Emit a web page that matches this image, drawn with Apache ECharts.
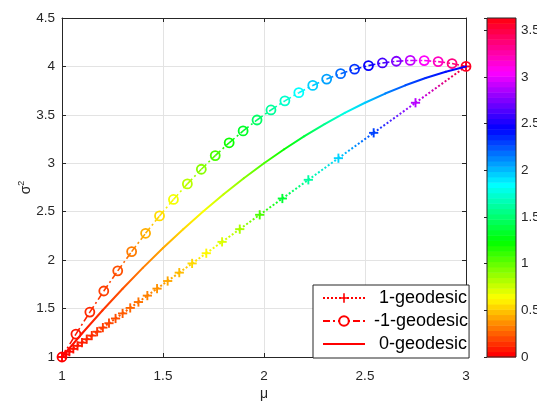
<!DOCTYPE html>
<html><head><meta charset="utf-8">
<script src="https://cdn.jsdelivr.net/npm/echarts@6/dist/echarts.min.js"></script>
<style>html,body{margin:0;padding:0;background:#fff}#c{width:537px;height:402px}</style>
</head><body><div id="c"></div>
<script>
// ---------------- data ----------------
const xTicks = [1, 1.5, 2, 2.5, 3];
const yTicks = [1, 1.5, 2, 2.5, 3, 3.5, 4, 4.5];
const cbTicks = [0, 0.5, 1, 1.5, 2, 2.5, 3, 3.5];
const CMAX = 3.63;            // colour scale maximum
const CB_LEVELS = 64;         // colormap levels

// 1-geodesic (dotted, + markers)
const mu1 = [1, 1.0177, 1.0364, 1.0561, 1.0769, 1.0990, 1.1224, 1.1474, 1.1739, 1.2023, 1.2326, 1.2651, 1.3000, 1.3377, 1.3784, 1.4225, 1.4706, 1.5231, 1.5806, 1.6441, 1.7143, 1.7925, 1.8800, 1.9787, 2.0909, 2.2195, 2.3684, 2.5429, 2.7500, 3.0];
const s1  = [1, 1.0266, 1.0545, 1.0841, 1.1154, 1.1485, 1.1837, 1.2211, 1.2609, 1.3034, 1.3488, 1.3976, 1.4500, 1.5065, 1.5676, 1.6338, 1.7059, 1.7846, 1.8710, 1.9661, 2.0714, 2.1887, 2.3200, 2.4681, 2.6364, 2.8293, 3.0526, 3.3143, 3.6250, 4.0];
const c1  = [0, 0.01, 0.02, 0.04, 0.05, 0.07, 0.09, 0.11, 0.13, 0.15, 0.17, 0.19, 0.22, 0.25, 0.28, 0.31, 0.35, 0.40, 0.45, 0.52, 0.60, 0.70, 0.82, 1.05, 1.35, 1.62, 1.95, 2.30, 2.90, 3.60];

// -1-geodesic (dash-dot, o markers)
const mu2 = [1, 1.0690, 1.1379, 1.2069, 1.2759, 1.3448, 1.4138, 1.4828, 1.5517, 1.6207, 1.6897, 1.7586, 1.8276, 1.8966, 1.9655, 2.0345, 2.1034, 2.1724, 2.2414, 2.3103, 2.3793, 2.4483, 2.5172, 2.5862, 2.6552, 2.7241, 2.7931, 2.8621, 2.9310, 3.0];
const s2  = [1, 1.2366, 1.4637, 1.6813, 1.8894, 2.0880, 2.2771, 2.4566, 2.6266, 2.7872, 2.9382, 3.0797, 3.2117, 3.3341, 3.4471, 3.5505, 3.6445, 3.7289, 3.8038, 3.8692, 3.9251, 3.9715, 4.0083, 4.0357, 4.0535, 4.0618, 4.0606, 4.0499, 4.0297, 4.0];
const c2  = [0, 0.05, 0.10, 0.15, 0.19, 0.30, 0.42, 0.53, 0.64, 0.78, 0.90, 1.05, 1.20, 1.32, 1.47, 1.60, 1.72, 1.84, 1.96, 2.07, 2.20, 2.34, 2.47, 2.62, 2.77, 2.92, 3.08, 3.22, 3.38, 3.60];

// 0-geodesic (solid)
const mu0 = [1.0, 1.1, 1.2, 1.3, 1.4, 1.5, 1.6, 1.7, 1.8, 1.9, 2.0, 2.1, 2.2, 2.3, 2.4, 2.5, 2.6, 2.7, 2.8, 2.9, 3.0];
const s0  = [1.000, 1.245, 1.480, 1.705, 1.920, 2.125, 2.320, 2.505, 2.680, 2.845, 3.000, 3.145, 3.280, 3.405, 3.520, 3.625, 3.720, 3.805, 3.880, 3.945, 4.000];
const c0  = [0, 0.05, 0.12, 0.20, 0.30, 0.40, 0.52, 0.63, 0.76, 0.90, 1.05, 1.21, 1.38, 1.58, 1.78, 1.97, 2.13, 2.26, 2.36, 2.43, 2.48];

const legendNames = ['1-geodesic', '-1-geodesic', '0-geodesic'];

// ---------------- styling helpers ----------------
const FONT = '"Liberation Sans", Arial, Helvetica, sans-serif';
const AX = '#262626';
function hsv(h) {
  h = (((h % 1) + 1) % 1) * 6;
  const i = Math.floor(h), f = h - i, q = 1 - f;
  let r, g, b;
  switch (i) {
    case 0: r = 1; g = f; b = 0; break;
    case 1: r = q; g = 1; b = 0; break;
    case 2: r = 0; g = 1; b = f; break;
    case 3: r = 0; g = q; b = 1; break;
    case 4: r = f; g = 0; b = 1; break;
    default: r = 1; g = 0; b = q;
  }
  return 'rgb(' + Math.round(r * 255) + ',' + Math.round(g * 255) + ',' + Math.round(b * 255) + ')';
}
function cmap(v) {
  const t = Math.max(0, Math.min(1, v / CMAX));
  return hsv(t * (CB_LEVELS - 1) / CB_LEVELS);
}

function geoSeries(id, xs, ys, cs, st) {
  return {
    type: 'custom', name: id, xAxisIndex: 0, yAxisIndex: 0, silent: true, clip: false, z: st.z,
    data: xs.map((x, i) => [x, ys[i], i]),
    encode: { x: 0, y: 1 },
    renderItem: function (params, api) {
      const i = api.value(2);
      const p = api.coord([xs[i], ys[i]]);
      const ch = [];
      if (i < xs.length - 1) {
        const q = api.coord([xs[i + 1], ys[i + 1]]);
        ch.push({
          type: 'line',
          shape: { x1: p[0], y1: p[1], x2: q[0], y2: q[1] },
          style: {
            stroke: new echarts.graphic.LinearGradient(p[0], p[1], q[0], q[1],
              [{ offset: 0, color: cmap(cs[i]) }, { offset: 1, color: cmap(cs[i + 1]) }], true),
            lineWidth: st.lw, lineDash: st.dash || null, lineCap: st.cap || 'butt'
          }
        });
      }
      const col = cmap(cs[i]);
      if (st.marker === 'plus') {
        const h = 4.6;
        ch.push({ type: 'line', shape: { x1: p[0] - h, y1: p[1], x2: p[0] + h, y2: p[1] }, style: { stroke: col, lineWidth: 1.9 } });
        ch.push({ type: 'line', shape: { x1: p[0], y1: p[1] - h, x2: p[0], y2: p[1] + h }, style: { stroke: col, lineWidth: 1.9 } });
      } else if (st.marker === 'circle') {
        ch.push({ type: 'circle', shape: { cx: p[0], cy: p[1], r: 4.5 }, style: { fill: 'none', stroke: col, lineWidth: 1.8 } });
      }
      return { type: 'group', children: ch };
    }
  };
}

const bandData = [];
for (let k = 0; k < CB_LEVELS; k++) bandData.push([k]);

const PLUS = 'path://M-1,-6H1V-1H6V1H1V6H-1V1H-6V-1H-1Z';
const DASHDOT = [7, 3, 2, 3];

const chart = echarts.init(document.getElementById('c'), null, { renderer: 'canvas' });
const isTick = (v, arr) => arr.some(t => Math.abs(t - v) < 1e-6);

chart.setOption({
  animation: false,
  textStyle: { fontFamily: FONT },
  grid: [
    { left: 62, top: 18, width: 404, height: 339, show: false, containLabel: false, outerBoundsMode: 'none' },
    { left: 487, top: 18, width: 29, height: 339, show: true, z: 5, borderColor: AX, borderWidth: 1, backgroundColor: 'rgba(0,0,0,0)', containLabel: false, outerBoundsMode: 'none' }
  ],
  xAxis: [
    {
      gridIndex: 0, type: 'value', min: xTicks[0], max: xTicks[xTicks.length - 1], interval: xTicks[1] - xTicks[0],
      position: 'bottom', name: 'μ', nameLocation: 'middle', nameGap: 30, nameMoveOverlap: false,
      nameTextStyle: { color: AX, fontSize: 14, fontFamily: FONT },
      axisLine: { show: true, onZero: false, lineStyle: { color: AX, width: 1 } },
      axisTick: { show: true, inside: true, length: 4, lineStyle: { color: AX } },
      axisLabel: { color: AX, fontSize: 13.5, margin: 12, fontFamily: FONT, formatter: v => isTick(v, xTicks) ? String(v) : '' },
      splitLine: { show: true, lineStyle: { color: '#e3e3e3', width: 1 } }
    },
    {
      gridIndex: 0, type: 'value', min: xTicks[0], max: xTicks[xTicks.length - 1], interval: xTicks[1] - xTicks[0],
      position: 'top',
      axisLine: { show: true, onZero: false, lineStyle: { color: AX, width: 1 } },
      axisTick: { show: true, inside: true, length: 4, lineStyle: { color: AX } },
      axisLabel: { show: false }, splitLine: { show: false }
    },
    { gridIndex: 1, type: 'value', min: 0, max: 1, show: false }
  ],
  yAxis: [
    {
      gridIndex: 0, type: 'value', min: yTicks[0], max: yTicks[yTicks.length - 1], interval: yTicks[1] - yTicks[0],
      position: 'left', name: '{s|σ}{p|2}', nameLocation: 'middle', nameGap: 27, nameRotate: 90, nameMoveOverlap: false,
      nameTextStyle: { color: AX, fontFamily: FONT, rich: { s: { fontSize: 14, color: AX, lineHeight: 18, verticalAlign: 'middle' }, p: { fontSize: 9, color: AX, verticalAlign: 'top' } } },
      axisLine: { show: true, onZero: false, lineStyle: { color: AX, width: 1 } },
      axisTick: { show: true, inside: true, length: 4, lineStyle: { color: AX } },
      axisLabel: { color: AX, fontSize: 13.5, margin: 7, fontFamily: FONT, formatter: v => isTick(v, yTicks) ? String(v) : '' },
      splitLine: { show: true, lineStyle: { color: '#e3e3e3', width: 1 } }
    },
    {
      gridIndex: 0, type: 'value', min: yTicks[0], max: yTicks[yTicks.length - 1], interval: yTicks[1] - yTicks[0],
      position: 'right',
      axisLine: { show: true, onZero: false, lineStyle: { color: AX, width: 1 } },
      axisTick: { show: true, inside: true, length: 4, lineStyle: { color: AX } },
      axisLabel: { show: false }, splitLine: { show: false }
    },
    {
      gridIndex: 1, type: 'value', min: 0, max: CMAX, interval: cbTicks[1] - cbTicks[0], position: 'right', z: 6,
      axisLine: { show: false },
      axisTick: { show: true, inside: true, length: 3, lineStyle: { color: AX } },
      axisLabel: { color: AX, fontSize: 13.5, margin: 5, fontFamily: FONT, formatter: v => isTick(v, cbTicks) ? String(v) : '' },
      splitLine: { show: false }
    }
  ],
  legend: {
    orient: 'vertical', left: 313, top: 285,
    padding: [4, 1, 5, 9],
    itemWidth: 42, itemHeight: 12, itemGap: 5,
    backgroundColor: '#fff', borderColor: AX, borderWidth: 1, borderRadius: 0,
    textStyle: { fontSize: 18, color: '#000', fontFamily: FONT, lineHeight: 18, padding: [0, 0, 0, 4] },
    formatter: n => (n.charAt(0) === '-' ? n : ' ' + n),
    data: [
      { name: legendNames[0] },
      { name: legendNames[1] },
      { name: legendNames[2], icon: 'path://M0,0H42V2H0Z' }
    ],
    selectedMode: false
  },
  series: [
    // colorbar
    {
      type: 'custom', name: 'colorbar', xAxisIndex: 2, yAxisIndex: 2, silent: true, z: 2,
      data: bandData,
      encode: { x: -1, y: -1 },
      renderItem: function (params, api) {
        const k = api.value(0);
        const lo = k * CMAX / CB_LEVELS, hi = (k + 1) * CMAX / CB_LEVELS;
        const a = api.coord([0, hi]), b = api.coord([1, lo]);
        return { type: 'rect', shape: { x: a[0], y: a[1], width: b[0] - a[0], height: b[1] - a[1] + 0.5 }, style: { fill: hsv(k / CB_LEVELS) } };
      }
    },
    geoSeries('draw-1', mu1, s1, c1, { lw: 2, dash: [2, 2], marker: 'plus', z: 3 }),
    geoSeries('draw-m1', mu2, s2, c2, { lw: 1.6, dash: DASHDOT, marker: 'circle', z: 4 }),
    geoSeries('draw-0', mu0, s0, c0, { lw: 2, cap: 'round', marker: 'none', z: 5 }),
    // legend entries
    { type: 'line', name: legendNames[0], data: [], xAxisIndex: 0, yAxisIndex: 0, color: '#ff0000', symbol: PLUS, lineStyle: { type: [2, 2], width: 2, color: '#ff0000' }, itemStyle: { color: '#ff0000' } },
    { type: 'line', name: legendNames[1], data: [], xAxisIndex: 0, yAxisIndex: 0, color: '#ff0000', symbol: 'emptyCircle', lineStyle: { type: DASHDOT, width: 1.6, color: '#ff0000' }, itemStyle: { color: '#ff0000' } },
    { type: 'line', name: legendNames[2], data: [], xAxisIndex: 0, yAxisIndex: 0, color: '#ff0000', symbol: 'none', lineStyle: { width: 2, color: '#ff0000' }, itemStyle: { color: '#ff0000' } }
  ]
});
</script></body></html>
